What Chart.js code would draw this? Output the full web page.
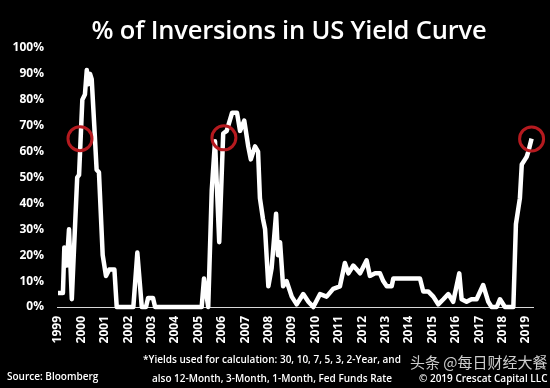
<!DOCTYPE html>
<html>
<head>
<meta charset="utf-8">
<script src="https://cdn.jsdelivr.net/npm/chart.js@4.4.1/dist/chart.umd.min.js"></script>
<style>
  html, body { margin: 0; padding: 0; background: #000; }
  #wrap { position: relative; width: 550px; height: 388px; background: #000; overflow: hidden; font-family: "Open Sans", sans-serif; color: #fff; }
  #chart { position: absolute; left: 0; top: 0; }
  .txt { position: absolute; white-space: nowrap; }
  #title { left: 0; width: 578px; top: 12px; text-align: center; font-size: 25.5px; font-weight: 600; letter-spacing: -0.2px; }
  #source { left: 7px; top: 369px; font-size: 10px; font-weight: 600; }
  #note { left: 132px; width: 280px; top: 350px; text-align: center; font-size: 10px; font-weight: 600; line-height: 19px; }
  #copy { left: 419px; top: 371px; font-size: 10px; font-weight: 600; }
  #mark { left: 410px; top: 351px; font-size: 15px; color: rgba(255,255,255,0.8); font-family: "Noto Sans CJK SC", sans-serif; }
</style>
</head>
<body>
<div id="wrap">
  <canvas id="chart" width="550" height="388"></canvas>
  <div class="txt" id="title">% of Inversions in US Yield Curve</div>
  <div class="txt" id="note">*Yields used for calculation: 30, 10, 7, 5, 3, 2-Year, and<br>also 12-Month, 3-Month, 1-Month, Fed Funds Rate</div>
  <div class="txt" id="source">Source: Bloomberg</div>
  <div class="txt" id="mark">头条 @每日财经大餐</div>
  <div class="txt" id="copy">© 2019 Crescat Capital LLC</div>
</div>
<script>
// Data
const years = [
  1999.0, 1999.21, 1999.27, 1999.37, 1999.47, 1999.59, 1999.82, 1999.90, 2000.04, 2000.15,
  2000.23, 2000.29, 2000.37, 2000.44, 2000.55, 2000.65, 2000.75, 2000.91, 2001.05, 2001.19,
  2001.41, 2001.51, 2002.22, 2002.39, 2002.58, 2002.76, 2002.85, 2003.06, 2003.15, 2005.14,
  2005.24, 2005.42, 2005.57, 2005.71, 2005.89, 2006.06, 2006.21, 2006.44, 2006.65, 2006.78,
  2006.96, 2007.13, 2007.24, 2007.42, 2007.55, 2007.63, 2007.76, 2007.85, 2007.99, 2008.13,
  2008.32, 2008.40, 2008.49, 2008.62, 2008.77, 2008.99, 2009.20, 2009.48, 2009.70, 2009.91,
  2010.20, 2010.48, 2010.76, 2011.05, 2011.26, 2011.41, 2011.62, 2011.91, 2012.19, 2012.33,
  2012.55, 2012.76, 2012.90, 2013.05, 2013.26, 2013.33, 2014.47, 2014.61, 2014.82, 2015.04,
  2015.25, 2015.47, 2015.68, 2015.89, 2016.15, 2016.25, 2016.46, 2016.67, 2016.89, 2017.17,
  2017.39, 2017.53, 2017.75, 2017.89, 2018.10, 2018.46, 2018.57, 2018.74, 2018.82, 2018.96,
  2019.03, 2019.10, 2019.24
];
const inversions = [
  5.4, 5.4, 23, 16, 30, 3, 50, 51, 80, 82,
  91.5, 86, 90, 88, 70, 53, 52, 20, 12, 14.5,
  14.5, 0, 0, 21, 0, 0, 3.5, 3.5, 0, 0,
  11, 0, 45, 64, 25, 67, 68, 75, 75, 68,
  72, 62, 57, 62, 60, 42, 34, 30, 8, 15,
  36, 20, 25, 8, 10, 4, 1, 5, 2, 0,
  5, 4, 7, 8, 17, 13, 16, 13, 18, 12,
  13, 13, 10, 8, 8, 11, 11, 6, 6, 4,
  1, 3, 5, 2, 13, 3, 2, 3, 3, 8.5,
  2, 0, 0, 3, 0, 0, 32, 42, 55, 57,
  58, 60, 65
];
// Highlighted points (red circles)
const circleYears = [1999.94, 2006.09, 2019.24];
const circleValues = [65, 65.3, 64.9];
const tickYears = [1999, 2000, 2001, 2002, 2003, 2004, 2005, 2006, 2007, 2008, 2009,
  2010, 2011, 2012, 2013, 2014, 2015, 2016, 2017, 2018, 2019];
const yTicks = [0, 10, 20, 30, 40, 50, 60, 70, 80, 90, 100];

const tickFont = { family: '"Open Sans", sans-serif', size: 12, weight: '700' };

new Chart(document.getElementById('chart'), {
  type: 'line',
  data: {
    datasets: [
      {
        data: years.map((y, i) => ({ x: y, y: inversions[i] })),
        borderColor: '#ffffff',
        borderWidth: 4.5,
        pointRadius: 0,
        tension: 0,
        borderJoinStyle: 'round',
        clip: 4,
        order: 2
      },
      {
        type: 'scatter',
        data: circleYears.map((y, i) => ({ x: y, y: circleValues[i] })),
        pointRadius: 12,
        pointBorderWidth: 3,
        pointBorderColor: '#b51a1f',
        pointBackgroundColor: 'rgba(0,0,0,0)',
        clip: false,
        order: 1
      }
    ]
  },
  options: {
    responsive: false,
    animation: false,
    events: [],
    layout: { padding: { top: 48, right: 17, left: 0, bottom: 0 } },
    plugins: { legend: { display: false }, tooltip: { enabled: false } },
    scales: {
      x: {
        type: 'linear',
        min: 1998.957,
        max: 2019.30,
        afterBuildTicks: s => { s.ticks = tickYears.map(v => ({ value: v })); },
        afterFit: s => { s.height = 81; },
        grid: { display: false, drawTicks: false },
        border: { display: true, color: '#d8d8d8', width: 1 },
        ticks: {
          color: '#ffffff',
          font: tickFont,
          minRotation: 90,
          maxRotation: 90,
          padding: 9,
          autoSkip: false,
          callback: v => String(v)
        }
      },
      y: {
        min: 0,
        max: 100,
        afterBuildTicks: s => { s.ticks = yTicks.map(v => ({ value: v })); },
        afterFit: s => { s.width = 57; },
        grid: { display: false, drawTicks: false },
        border: { display: false },
        ticks: {
          color: '#ffffff',
          font: tickFont,
          padding: 13,
          callback: v => v + '%'
        }
      }
    }
  }
});
</script>
</body>
</html>
